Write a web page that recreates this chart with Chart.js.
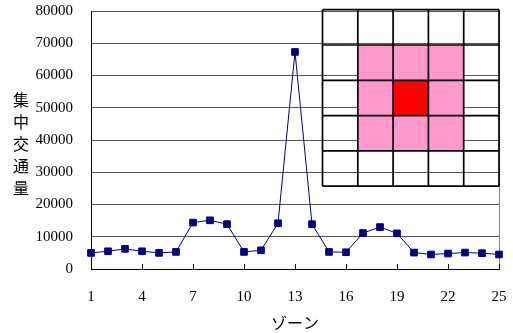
<!DOCTYPE html>
<html>
<head>
<meta charset="utf-8">
<script src="https://cdn.jsdelivr.net/npm/chart.js@4/dist/chart.umd.min.js"></script>
<style>
  body { margin: 0; background: #fff; }
  canvas { display: block; }
</style>
</head>
<body>
<canvas id="zoneChart" width="513" height="333"></canvas>
<script>
// zone traffic concentration
const zones = [];
for (let i = 1; i <= 25; i++) zones.push(String(i));
const traffic = [5000, 5500, 6250, 5500, 5000, 5300, 14400, 15100, 13900, 5300,
  5800, 14200, 67300, 13900, 5300, 5200, 11150, 13000, 11050, 5100,
  4500, 4800, 5100, 4900, 4500];
const yTitleChars = ['集', '中', '交', '通', '量'];
const xTitle = 'ゾーン';
// 5x5 inset map: 0 = empty, 1 = pink, 2 = red
const insetCells = [
  [0, 0, 0, 0, 0],
  [0, 1, 1, 1, 0],
  [0, 1, 2, 1, 0],
  [0, 1, 1, 1, 0],
  [0, 0, 0, 0, 0]
];
const cellColors = [null, '#ff99cc', '#ff0000'];

const serif = { family: '"Liberation Serif", "Times New Roman", serif', size: 15 };
const gothic = '"Noto Sans CJK JP", sans-serif';

const extrasPlugin = {
  id: 'extras',
  beforeDatasetsDraw(chart) {
    const ctx = chart.ctx;
    const area = chart.chartArea;
    const x = chart.scales.x;
    ctx.save();
    // right frame line
    ctx.strokeStyle = '#888';
    ctx.lineWidth = 1;
    ctx.beginPath();
    ctx.moveTo(area.right + 0.5, area.top);
    ctx.lineTo(area.right + 0.5, area.bottom);
    ctx.stroke();
    // inside tick marks on the x axis
    ctx.strokeStyle = '#000';
    for (let i = 0; i < zones.length; i += 3) {
      const px = Math.round(x.getPixelForValue(i)) + 0.5;
      ctx.beginPath();
      ctx.moveTo(px, area.bottom);
      ctx.lineTo(px, area.bottom - 5);
      ctx.stroke();
    }
    // inset grid
    const size = 35.3;
    const left = area.right - size * 5;
    const top = area.top - 1.3;
    insetCells.forEach((row, r) => {
      row.forEach((c, k) => {
        if (!cellColors[c]) return;
        ctx.fillStyle = cellColors[c];
        ctx.fillRect(left + k * size, top + r * size, size, size);
      });
    });
    ctx.strokeStyle = '#000';
    ctx.lineWidth = 1.7;
    for (let i = 0; i <= 5; i++) {
      ctx.beginPath();
      ctx.moveTo(left + i * size, top);
      ctx.lineTo(left + i * size, top + size * 5);
      ctx.stroke();
      ctx.beginPath();
      ctx.moveTo(left, top + i * size);
      ctx.lineTo(left + size * 5, top + i * size);
      ctx.stroke();
    }
    // stacked y title
    ctx.fillStyle = '#000';
    ctx.font = '16px ' + gothic;
    ctx.textAlign = 'center';
    ctx.textBaseline = 'middle';
    yTitleChars.forEach((ch, i) => {
      ctx.fillText(ch, 21, 100 + i * 22);
    });
    ctx.restore();
  }
};

new Chart(document.getElementById('zoneChart').getContext('2d'), {
  type: 'line',
  data: {
    labels: zones,
    datasets: [{
      data: traffic,
      borderColor: '#000080',
      backgroundColor: '#000080',
      borderWidth: 1,
      pointStyle: 'rect',
      pointRadius: 4.7,
      pointBorderWidth: 1,
      tension: 0,
      fill: false
    }]
  },
  options: {
    responsive: false,
    animation: false,
    devicePixelRatio: 1,
    layout: { padding: { left: 0, top: 11, right: 14, bottom: 0 } },
    plugins: {
      legend: { display: false },
      tooltip: { enabled: false }
    },
    scales: {
      x: {
        grid: { display: false, drawTicks: false },
        border: { color: '#000', width: 1 },
        ticks: {
          autoSkip: false,
          maxRotation: 0,
          padding: 19,
          color: '#000',
          font: serif,
          callback: (v, i) => (i % 3 === 0 ? zones[i] : '')
        },
        title: {
          display: true,
          text: xTitle,
          color: '#000',
          font: { family: gothic, size: 16 },
          padding: { top: 0, bottom: 0 }
        },
        afterFit(scale) {
          scale.height = 64;
          scale.paddingLeft = 0;
          scale.paddingRight = 0;
        }
      },
      y: {
        min: 0,
        max: 80000,
        grid: { color: '#555', drawTicks: false },
        border: { color: '#000', width: 1 },
        ticks: {
          stepSize: 10000,
          padding: 18,
          color: '#000',
          font: serif,
          callback: v => String(v)
        },
        afterFit(scale) {
          scale.width = 91;
          scale.paddingTop = 0;
          scale.paddingBottom = 0;
        }
      }
    }
  },
  plugins: [extrasPlugin]
});
</script>
</body>
</html>
